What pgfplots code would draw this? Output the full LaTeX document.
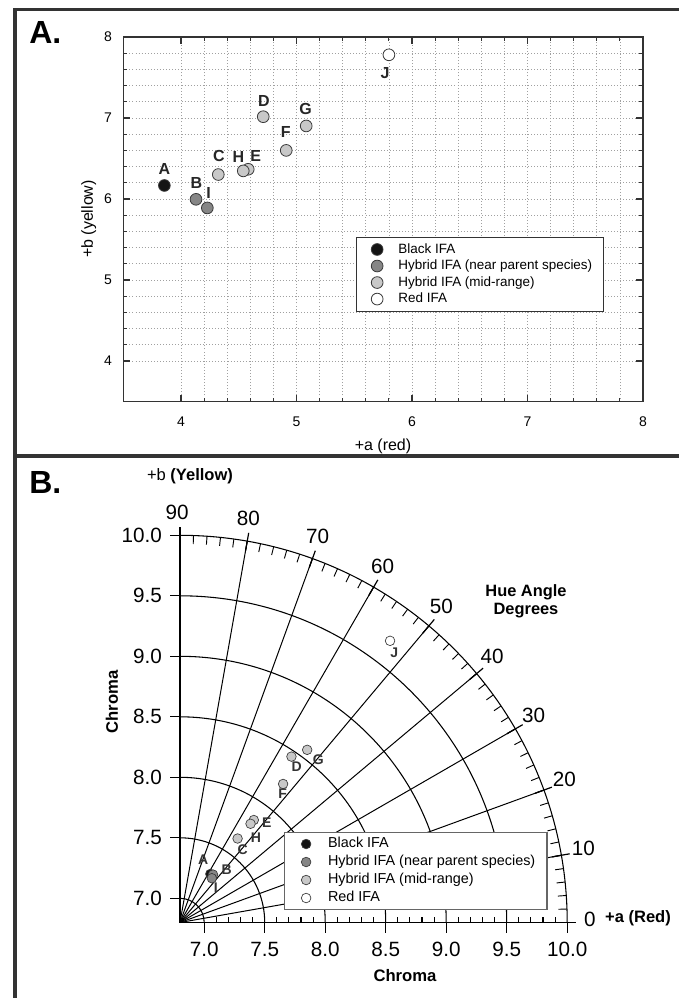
\documentclass[border=0pt]{standalone}
\usepackage{fontspec}
\setmainfont{Liberation Sans}
\usepackage{pgfplots}
\pgfplotsset{compat=1.18}

\definecolor{framec}{HTML}{333333}
\definecolor{blk}{HTML}{141414}
\definecolor{nearp}{HTML}{868686}
\definecolor{midr}{HTML}{C8C8C8}
\definecolor{edge}{HTML}{3A3A3A}
\definecolor{gridc}{HTML}{A0A0A0}

\pgfplotsset{
  legA/.style={legend image code/.code={\path (0pt,-3pt) (22pt,3pt); \draw[##1] plot coordinates {(8.5pt,0pt)};}},
  legB/.style={legend image code/.code={\path (0pt,-3pt) (23pt,3pt); \draw[##1] plot coordinates {(9pt,0pt)};}},
}

\begin{document}
\begin{tikzpicture}[x=0.75pt, y=-0.75pt, lbl/.style={inner sep=0pt}]
\useasboundingbox (0,0) rectangle (678,998);

% outer frame
\draw[framec, line width=2.5pt] (15,1000) -- (15,9.7) -- (680,9.7);
\draw[framec, line width=2.5pt] (15,456) -- (680,456);
\node[lbl, anchor=base west, font=\fontsize{24}{28}\selectfont\bfseries] at (29,44) {A.};
\node[lbl, anchor=base west, font=\fontsize{24}{28}\selectfont\bfseries] at (29,493) {B.};

% ---------------- panel A ----------------
\begin{axis}[
  at={(92.4375pt,-301.125pt)}, anchor=south west,
  x=86.625pt, y=60.75pt,
  xmin=3.5, xmax=8, ymin=3.5, ymax=8,
  xtick={4,5,6,7,8}, ytick={4,5,6,7,8},
  minor x tick num=4, minor y tick num=4,
  grid=both,
  major grid style={gridc, line width=0.5pt, dash pattern=on 0.7pt off 1.6pt},
  minor grid style={gridc, line width=0.5pt, dash pattern=on 0.7pt off 1.6pt},
  axis line style={framec, line width=1.1pt},
  tick align=inside, major tick length=5pt, minor tick length=3pt,
  tick style={framec, line width=0.8pt},
  tick label style={font=\fontsize{10.5}{12}\selectfont},
  xticklabel style={yshift=-8pt},
  yticklabel style={xshift=-5pt},
  /pgf/number format/assume math mode=true,
  legend cell align=left,
  legend style={at={(0.448,0.452)}, anchor=north west, draw=framec, line width=0.8pt,
    fill=white, font=\fontsize{10.1}{12}\selectfont,
    inner xsep=6.5pt, inner ysep=4.4pt, row sep=2.9pt,
    nodes={inner ysep=0pt, text height=7.5pt, text depth=2pt}},
  clip=false,
]
\addplot[only marks, mark=*, mark size=4.4pt, mark options={draw=edge, line width=0.6pt, fill=blk}, legA]
  coordinates {(3.856,6.167)};
\addlegendentry{Black IFA}
\addplot[only marks, mark=*, mark size=4.4pt, mark options={draw=edge, line width=0.6pt, fill=nearp}, legA]
  coordinates {(4.130,5.996) (4.228,5.890)};
\addlegendentry{Hybrid IFA (near parent species)}
\addplot[only marks, mark=*, mark size=4.4pt, mark options={draw=edge, line width=0.6pt, fill=midr}, legA]
  coordinates {(4.323,6.302) (4.582,6.367) (4.539,6.347) (4.712,7.016) (4.911,6.600) (5.084,6.902)};
\addlegendentry{Hybrid IFA (mid-range)}
\addplot[only marks, mark=*, mark size=4.4pt, mark options={draw=edge, line width=0.6pt, fill=white}, legA]
  coordinates {(5.800,7.780)};
\addlegendentry{Red IFA}
\end{axis}

\node[lbl, font=\fontsize{12}{14}\selectfont] at (383,446.7) {+a (red)};
\node[lbl, rotate=90, font=\fontsize{12}{14}\selectfont] at (88.7,219) {+b (yellow)};

\begin{scope}[every node/.style={inner sep=0pt, font=\fontsize{12}{14}\selectfont\bfseries, text=black!85}]
\node at (164.3,169.3) {A};
\node at (196.3,183.3) {B};
\node at (208.7,193.3) {I};
\node at (219,155.7) {C};
\node at (238.3,157.3) {H};
\node at (255.7,155.7) {E};
\node at (264,100.7) {D};
\node at (285.7,132) {F};
\node at (305.7,108.7) {G};
\node at (385,72.7) {J};
\end{scope}

% ---------------- panel B ----------------
% hue-angle grid (polar, origin at chroma 6.8)
\begin{scope}[shift={(180,922.5)}]
  \foreach \r in {0.2,0.7,1.2,1.7,2.2,2.7,3.2}
    \draw[line width=0.8pt] (0:\r*90.75pt) arc[start angle=0, end angle=90, radius=\r*90.75pt];
  \foreach \a in {10,20,...,80}
    \draw[line width=0.75pt] (0,0) -- (\a:3.2*90.75pt);
  \foreach \a in {0,10,...,90}
    \draw[line width=0.9pt] (\a:3.12*90.75pt) -- (\a:3.27*90.75pt);
  \foreach \a in {2,4,...,88}
    \draw[line width=0.7pt] (\a:3.2*90.75pt) -- (\a:3.13*90.75pt);
  \foreach \a in {0,10,...,90}
    \node[inner sep=0pt, font=\fontsize{15.5}{18}\selectfont] at ({\a+0.4}:307.5pt) {\a};
\end{scope}

\begin{axis}[
  at={(135pt,-691.875pt)}, anchor=south west,
  x=90.75pt, y=90.75pt,
  xmin=6.8, xmax=10, ymin=6.8, ymax=10,
  axis lines*=left,
  axis line style={black, line width=0.9pt},
  y axis line style={line width=1.5pt},
  xtick={7,7.5,8,8.5,9,9.5,10}, ytick={7,7.5,8,8.5,9,9.5,10},
  minor x tick num=4,
  xtick align=outside, ytick align=outside,
  major tick length=7.5pt, minor tick length=4pt,
  minor x tick style={yshift=4pt},
  tick style={black, line width=0.8pt},
  tick label style={font=\fontsize{15.5}{18}\selectfont,
    /pgf/number format/fixed, /pgf/number format/fixed zerofill, /pgf/number format/precision=1},
  xticklabel style={yshift=-4pt},
  yticklabel style={xshift=-2.5pt},
  /pgf/number format/assume math mode=true,
  legend cell align=left,
  legend style={at={(0.2686,0.2337)}, anchor=north west, draw=black!60, line width=0.8pt,
    fill=white, font=\fontsize{10.8}{13}\selectfont,
    inner xsep=6.8pt, inner ysep=3.5pt, row sep=3.3pt,
    nodes={inner ysep=0pt, text height=8pt, text depth=2.2pt}},
  clip=false,
]
\addplot[only marks, mark=*, mark size=3.6pt, mark options={draw=edge, line width=0.5pt, fill=blk}, legB]
  coordinates {(7.051,7.201)};
\addlegendentry{Black IFA}
\addplot[only marks, mark=*, mark size=3.6pt, mark options={draw=edge, line width=0.5pt, fill=nearp}, legB]
  coordinates {(7.073,7.196) (7.063,7.166)};
\addlegendentry{Hybrid IFA (near parent species)}
\addplot[only marks, mark=*, mark size=3.6pt, mark options={draw=edge, line width=0.5pt, fill=midr}, legB]
  coordinates {(7.276,7.494) (7.410,7.647) (7.383,7.616) (7.721,8.171) (7.652,7.945) (7.851,8.227)};
\addlegendentry{Hybrid IFA (mid-range)}
\addplot[only marks, mark=*, mark size=3.6pt, mark options={draw=edge, line width=0.5pt, fill=white}, legB]
  coordinates {(8.536,9.128)};
\addlegendentry{Red IFA}
\end{axis}

\begin{scope}[every node/.style={inner sep=0pt, font=\fontsize{10.5}{12}\selectfont\bfseries, text=black!80}]
\node at (203.3,860) {A};
\node at (226.7,870) {B};
\node at (215.7,887.3) {I};
\node at (242.7,850) {C};
\node at (256,837.3) {H};
\node at (266.7,822.7) {E};
\node at (282.7,793.3) {F};
\node at (296.7,766.7) {D};
\node at (318.3,759.3) {G};
\node at (394.3,652.9) {J};
\end{scope}

\node[lbl, font=\fontsize{12.4}{14}\selectfont] at (190,476.7) {+b \textbf{(Yellow)}};
\node[lbl, font=\fontsize{12.3}{13.7}\selectfont\bfseries, align=center] at (526,601) {Hue Angle\\Degrees};
\node[lbl, font=\fontsize{12.4}{14}\selectfont\bfseries] at (638,918.3) {+a (Red)};
\node[lbl, rotate=90, font=\fontsize{12.5}{14}\selectfont\bfseries] at (112,702) {Chroma};
\node[lbl, font=\fontsize{12.5}{14}\selectfont\bfseries] at (405,975.4) {Chroma};
\end{tikzpicture}
\end{document}
